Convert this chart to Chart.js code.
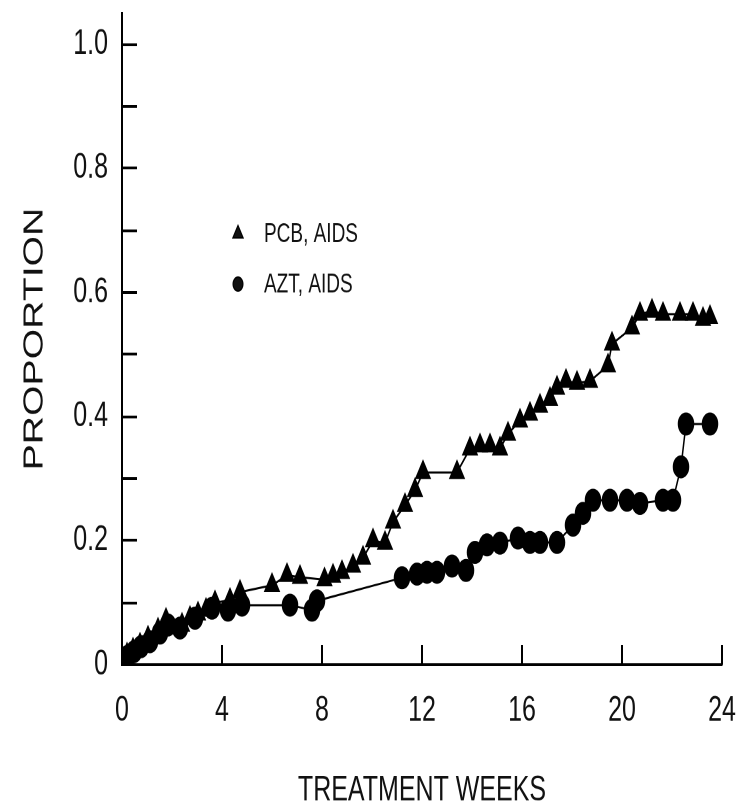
<!DOCTYPE html>
<html>
<head>
<meta charset="utf-8">
<script src="https://cdn.jsdelivr.net/npm/chart.js@4.4.1/dist/chart.umd.min.js"></script>
<style>
  html, body { margin: 0; padding: 0; background: #fff; }
  #page { width: 751px; height: 806px; overflow: hidden; position: relative; }
  #wrap { position: absolute; left: 0; top: 0; width: 751px; height: 576px; transform: scaleY(1.3993); transform-origin: 0 0; }
</style>
</head>
<body>
<div id="page"><div id="wrap"><canvas id="chart-canvas" width="751" height="576"></canvas></div></div>
<script>
// PCB group (triangles)
const weeksPCB = [0.2, 0.44, 0.72, 1.04, 1.44, 1.76, 2.4, 2.72, 3.04, 3.36, 3.72, 4.32, 4.72,
    6.0, 6.6, 7.12, 8.1, 8.44, 8.8, 9.24, 9.64, 10.04, 10.52, 10.84, 11.32, 11.72, 12.04,
    13.4, 13.92, 14.32, 14.72, 15.12, 15.44, 15.92, 16.32, 16.72, 17.12, 17.4, 17.76, 18.2,
    18.72, 19.44, 19.6, 20.4, 20.72, 21.2, 21.64, 22.32, 22.84, 23.24, 23.52];
const propPCB = [0.016, 0.024, 0.032, 0.043, 0.056, 0.072, 0.064, 0.075, 0.082, 0.088, 0.10, 0.104, 0.117,
    0.128, 0.144, 0.141, 0.137, 0.143, 0.149, 0.159, 0.172, 0.20, 0.196, 0.23, 0.257, 0.281, 0.31,
    0.31, 0.348, 0.353, 0.353, 0.348, 0.372, 0.393, 0.404, 0.417, 0.428, 0.446, 0.457, 0.454,
    0.457, 0.482, 0.517, 0.543, 0.565, 0.57, 0.565, 0.565, 0.565, 0.557, 0.56];

// AZT group (circles)
const weeksAZT = [0.2, 0.48, 0.76, 1.12, 1.52, 1.84, 2.32, 2.92, 3.6, 4.24, 4.8, 6.72, 7.6, 7.8,
    11.2, 11.8, 12.2, 12.6, 13.2, 13.76, 14.12, 14.6, 15.12, 15.84, 16.32, 16.72, 17.4,
    18.04, 18.44, 18.84, 19.52, 20.2, 20.72, 21.64, 22.04, 22.36, 22.56, 23.52];
const propAZT = [0.013, 0.021, 0.029, 0.037, 0.051, 0.064, 0.059, 0.075, 0.091, 0.088, 0.096, 0.096, 0.088, 0.103,
    0.14, 0.146, 0.149, 0.149, 0.159, 0.152, 0.181, 0.193, 0.196, 0.204, 0.197, 0.197, 0.197,
    0.225, 0.244, 0.265, 0.265, 0.265, 0.26, 0.265, 0.265, 0.319, 0.388, 0.388];

const xTickValues = [0, 4, 8, 12, 16, 20, 24];
const yTickValues = [0, 0.1, 0.2, 0.3, 0.4, 0.5, 0.6, 0.7, 0.8, 0.9, 1.0];
const yTickLabels = ['0', '', '0.2', '', '0.4', '', '0.6', '', '0.8', '', '1.0'];

const FONT = "'Liberation Sans', Arial, sans-serif";

function toPoints(xs, ys) {
    return xs.map((x, i) => ({ x: x, y: ys[i] }));
}

// short tick marks pointing into the plot, like the original figure
const innerTicks = {
    id: 'innerTicks',
    afterDatasetsDraw(chart) {
        const { ctx, chartArea, scales } = chart;
        ctx.save();
        ctx.strokeStyle = '#000';
        ctx.lineWidth = 2;
        ctx.beginPath();
        yTickValues.forEach(v => {
            const y = Math.round(scales.y.getPixelForValue(v));
            ctx.moveTo(chartArea.left, y);
            ctx.lineTo(chartArea.left + 15, y);
        });
        xTickValues.forEach(v => {
            const x = Math.round(scales.x.getPixelForValue(v));
            ctx.moveTo(x, chartArea.bottom);
            ctx.lineTo(x, chartArea.bottom - 14);
        });
        ctx.stroke();
        ctx.restore();
    }
};

// legend sitting inside the plot area
const innerLegend = {
    id: 'innerLegend',
    afterDraw(chart) {
        const ctx = chart.ctx;
        ctx.save();
        ctx.font = '19px ' + FONT;
        ctx.textBaseline = 'middle';
        ctx.fillStyle = '#111';
        chart.data.datasets.forEach((ds, i) => {
            const y = 167 + i * 36;
            Chart.helpers.drawPoint(ctx, {
                pointStyle: ds.pointStyle,
                radius: i === 0 ? 6 : 5,
                borderWidth: 1
            }, 238, y);
            ctx.fillStyle = '#111';
            ctx.fillText(ds.label, 264, y + 1);
        });
        ctx.restore();
    }
};

const data = {
    datasets: [{
        label: 'PCB, AIDS',
        data: toPoints(weeksPCB, propPCB),
        pointStyle: 'triangle',
        pointRadius: 8,
        backgroundColor: '#000',
        borderColor: '#000',
        pointBorderColor: '#000',
        pointBackgroundColor: '#000',
        borderWidth: 1.5,
        showLine: true
    }, {
        label: 'AZT, AIDS',
        data: toPoints(weeksAZT, propAZT),
        pointStyle: 'circle',
        pointRadius: 7.5,
        backgroundColor: '#000',
        borderColor: '#000',
        pointBorderColor: '#000',
        pointBackgroundColor: '#000',
        borderWidth: 1.5,
        showLine: true
    }]
};

const config = {
    type: 'scatter',
    data,
    options: {
        responsive: false,
        animation: false,
        devicePixelRatio: 2,
        layout: { padding: { top: 7, right: 29, left: 0, bottom: 0 } },
        plugins: {
            legend: { display: false },
            tooltip: { enabled: false }
        },
        scales: {
            x: {
                type: 'linear',
                min: 0,
                max: 24,
                afterFit(scale) {
                    scale.height = 101;
                    scale.paddingLeft = 0;
                    scale.paddingRight = 0;
                },
                afterBuildTicks(scale) { scale.ticks = xTickValues.map(v => ({ value: v })); },
                grid: { display: false, drawTicks: false },
                border: { display: true, color: '#000', width: 2 },
                ticks: {
                    padding: 18,
                    maxRotation: 0,
                    color: '#111',
                    font: { family: FONT, size: 25 }
                },
                title: {
                    display: true,
                    text: 'TREATMENT WEEKS',
                    color: '#111',
                    font: { family: FONT, size: 25 },
                    padding: { top: 0, bottom: -4 }
                }
            },
            y: {
                min: 0,
                max: 1.05,
                afterFit(scale) {
                    scale.width = 122;
                    scale.paddingTop = 0;
                    scale.paddingBottom = 0;
                },
                afterBuildTicks(scale) { scale.ticks = yTickValues.map(v => ({ value: v })); },
                grid: { display: false, drawTicks: false },
                border: { display: true, color: '#000', width: 2 },
                ticks: {
                    padding: 14,
                    color: '#111',
                    font: { family: FONT, size: 25 },
                    callback: (v, i) => yTickLabels[i]
                },
                title: {
                    display: true,
                    text: 'PROPORTION',
                    color: '#111',
                    font: { family: FONT, size: 28 },
                    padding: { top: 18, bottom: 0 }
                }
            }
        }
    },
    plugins: [innerTicks, innerLegend]
};

let myChart = new Chart(document.getElementById('chart-canvas'), config);
</script>
</body>
</html>
